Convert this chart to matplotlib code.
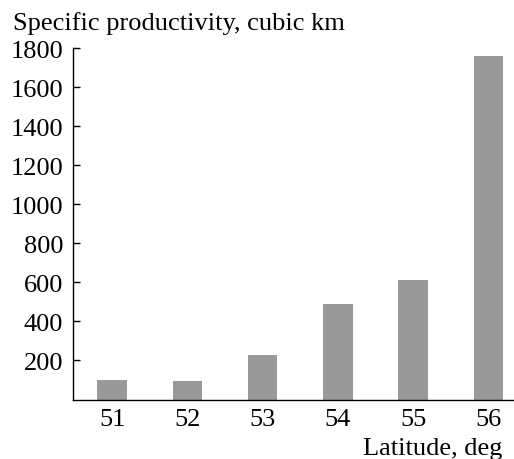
import matplotlib
matplotlib.use("Agg")
import matplotlib.pyplot as plt

latitudes = [51, 52, 53, 54, 55, 56]
productivity = [98, 95, 228, 489, 614, 1760]
yticks = [200, 400, 600, 800, 1000, 1200, 1400, 1600, 1800]

plt.rcParams['font.family'] = ['Liberation Serif', 'DejaVu Serif']

fig = plt.figure(figsize=(5.14, 4.60), dpi=100)
ax = fig.add_axes([73/514, (460-400.5)/460, (514-73)/514, (400.5-49.3)/460])
ax.bar(latitudes, productivity, width=0.39, color='#999999')
ax.set_xlim(50.48, 56.34)
ax.set_ylim(0, 1800)
ax.set_yticks(yticks)
ax.set_xticks(latitudes)
ax.tick_params(axis='y', direction='in', length=5, width=1, labelsize=19, pad=7)
ax.tick_params(axis='x', length=0, labelsize=19, pad=6)
for s in ['top', 'right']:
    ax.spines[s].set_visible(False)
for s in ['left', 'bottom']:
    ax.spines[s].set_linewidth(1)
fig.text(13/514, 1 - 30/460, 'Specific productivity, cubic km', fontsize=19, ha='left', va='baseline')
fig.text(1 - 12/514, 1 - 455/460, 'Latitude, deg', fontsize=19, ha='right', va='baseline')
fig.savefig('out.png', dpi=100)
